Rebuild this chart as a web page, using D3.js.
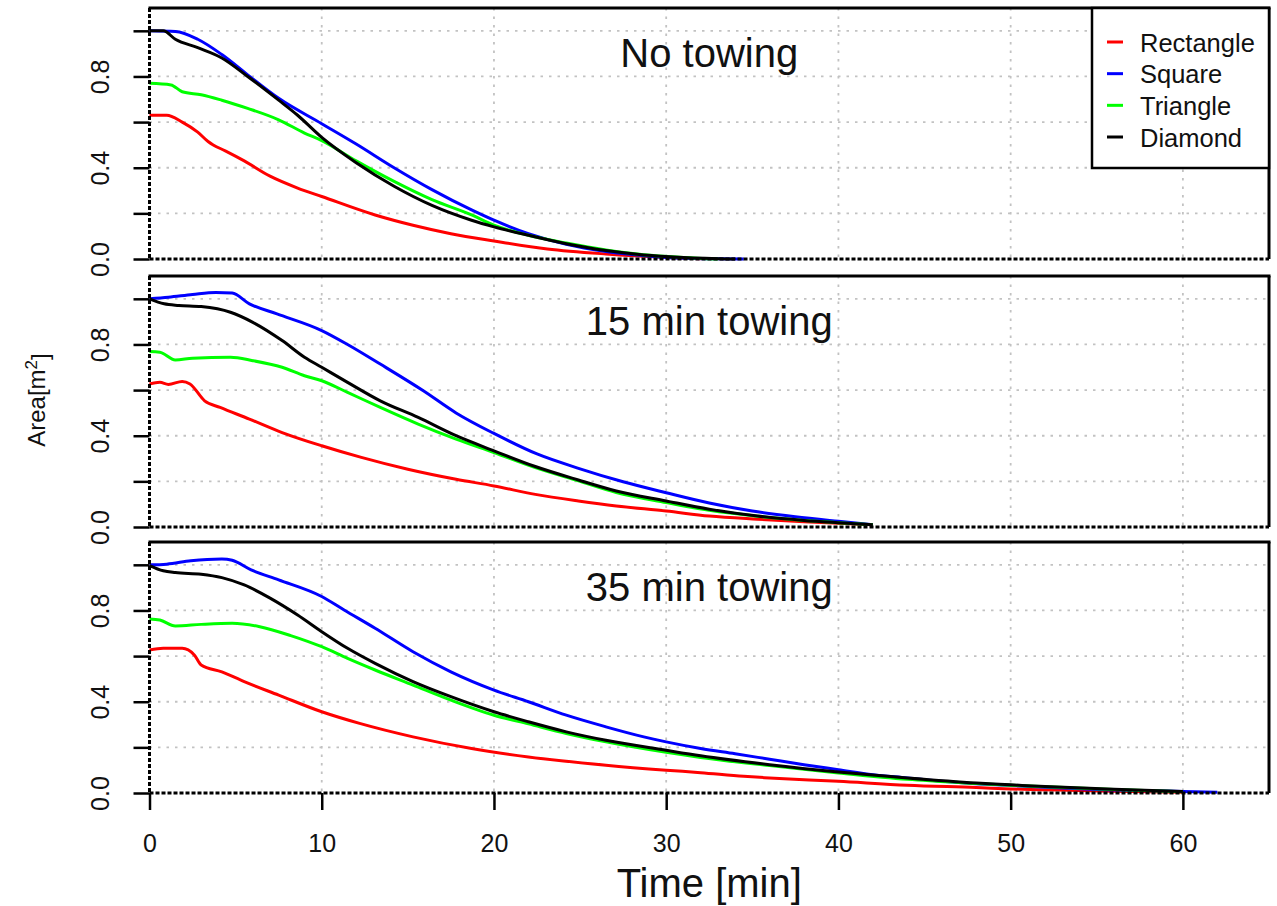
<!DOCTYPE html>
<html>
<head>
<meta charset="utf-8">
<script src="https://cdn.jsdelivr.net/npm/d3@7"></script>
<style>
  html, body { margin: 0; padding: 0; background: #fff; }
  svg { display: block; font-family: "Liberation Sans", Arial, Helvetica, sans-serif; }
</style>
</head>
<body>
<svg id="chart" width="1277" height="906"></svg>
<script>
// ---- Data: time [min] and floating area [m^2] per shape and towing case ----
const panelTitles = ["No towing", "15 min towing", "35 min towing"];
const seriesNames = ["Rectangle", "Square", "Triangle", "Diamond"];
const xTicks = [0, 10, 20, 30, 40, 50, 60];
const yTicks = [0, 0.2, 0.4, 0.6, 0.8, 1.0];
const yLabelled = [0, 0.4, 0.8];

// No towing
const rectNoTow = [[0,0.63],[1,0.63],[1.9,0.60],[2.8,0.556],[3.4,0.515],[3.7,0.50],[4.4,0.474],[5.5,0.43],[7,0.363],[8.6,0.311],[10,0.274],[13.1,0.193],[15.3,0.148],[17.5,0.111],[20,0.079],[23.1,0.044],[26.5,0.022],[30,0.007],[32,0.001]];
const squareNoTow = [[0,1.0],[1.5,0.997],[2.8,0.963],[4.2,0.896],[5.7,0.807],[7.5,0.704],[10,0.593],[12,0.504],[14.2,0.40],[16.4,0.304],[18.7,0.215],[20,0.17],[22,0.111],[24.2,0.064],[26.5,0.033],[28.7,0.015],[30,0.007],[33,0.001],[34.5,0]];
const triNoTow = [[0,0.77],[1.25,0.763],[1.9,0.733],[3,0.72],[4.2,0.696],[5.7,0.66],[7.5,0.61],[9,0.552],[10,0.519],[12,0.43],[14.2,0.34],[16.4,0.26],[18.7,0.193],[20,0.148],[22,0.104],[24.2,0.07],[26.5,0.04],[28.7,0.019],[31,0.007],[33,0]];
const diamondNoTow = [[0,1.0],[0.8,1.0],[1.5,0.963],[2.8,0.926],[4.2,0.881],[5.7,0.80],[7.5,0.696],[8.6,0.63],[10,0.533],[12,0.422],[14.2,0.319],[16.4,0.235],[18.7,0.17],[20,0.141],[22,0.104],[24.2,0.067],[26.5,0.037],[28.7,0.018],[31,0.007],[34,0]];

// 15 min towing
const rectTow15 = [[0,0.627],[0.6,0.634],[1.1,0.625],[1.9,0.638],[2.35,0.627],[3.2,0.553],[4.1,0.524],[5.8,0.473],[7.7,0.414],[10,0.356],[12.3,0.305],[15,0.253],[17.8,0.209],[20,0.18],[22.4,0.143],[24.9,0.114],[27.1,0.092],[30,0.07],[32.5,0.048],[35.3,0.034],[38,0.023],[40,0.016],[42,0.01]];
const squareTow15 = [[0,1.0],[1.1,1.007],[2.5,1.019],[3.85,1.028],[4.8,1.025],[5.8,0.978],[7.4,0.934],[10,0.861],[11.5,0.80],[13.4,0.714],[15.9,0.597],[17.8,0.50],[20,0.41],[22.5,0.32],[25,0.255],[27.5,0.198],[30,0.15],[32.5,0.105],[35,0.07],[37.5,0.045],[40,0.025],[42,0.01]];
const triTow15 = [[0,0.769],[0.6,0.766],[1.5,0.732],[2.5,0.74],[4.7,0.744],[6,0.729],[7.7,0.70],[9,0.663],[10,0.641],[11.5,0.59],[13.4,0.524],[15.6,0.451],[17.8,0.385],[20,0.326],[22.4,0.26],[24.9,0.202],[27.1,0.151],[30,0.107],[32.5,0.073],[35.3,0.047],[38,0.029],[40,0.019],[42,0.01]];
const diamondTow15 = [[0,1.0],[0.85,0.978],[1.7,0.971],[3,0.966],[4.7,0.941],[6,0.897],[7.7,0.817],[9,0.744],[10,0.70],[11.5,0.634],[13.4,0.553],[15.6,0.48],[17.8,0.40],[20,0.334],[22.4,0.265],[24.9,0.206],[27.1,0.158],[30,0.114],[32.5,0.078],[35.3,0.048],[38,0.029],[40,0.019],[42,0.01]];

// 35 min towing
const rectTow35 = [[0,0.627],[0.8,0.634],[1.9,0.634],[2.6,0.605],[3,0.561],[4.2,0.531],[5.5,0.488],[7.5,0.429],[10,0.356],[12.2,0.305],[15.3,0.246],[18.7,0.195],[22,0.158],[26.5,0.122],[30,0.10],[32,0.089],[34.5,0.073],[36,0.066],[40,0.051],[44,0.034],[48,0.024],[50,0.018],[56,0.008],[60,0.003]];
const squareTow35 = [[0,1.0],[1,1.003],[2.4,1.018],[4.2,1.026],[4.8,1.02],[5.9,0.978],[7.5,0.934],[10,0.861],[11.3,0.802],[13.1,0.722],[15.3,0.619],[17.5,0.531],[20,0.451],[22,0.40],[24.2,0.341],[26.5,0.29],[28.7,0.246],[30,0.224],[32,0.195],[34,0.172],[36,0.148],[38,0.124],[40,0.102],[42,0.08],[44,0.066],[46,0.051],[48,0.04],[50,0.033],[52,0.025],[54,0.019],[56,0.013],[58,0.01],[60,0.007],[62,0.003]];
const triTow35 = [[0,0.763],[0.6,0.758],[1.5,0.732],[3,0.739],[4.8,0.744],[6.4,0.729],[8.2,0.69],[10,0.641],[11.5,0.59],[13.1,0.539],[15.3,0.473],[17.5,0.407],[20,0.341],[22,0.303],[24.2,0.261],[26.5,0.224],[30,0.178],[32,0.156],[36,0.12],[40,0.088],[44,0.06],[48,0.042],[50,0.034],[56,0.015],[60,0.006]];
const diamondTow35 = [[0,0.997],[0.8,0.974],[1.5,0.966],[3,0.959],[4.2,0.944],[5.5,0.912],[7,0.854],[8.6,0.78],[10,0.707],[11.5,0.634],[13.1,0.568],[15.3,0.488],[17.5,0.422],[20,0.356],[22,0.312],[24.2,0.268],[26.5,0.231],[30,0.187],[32,0.163],[36,0.124],[40,0.092],[44,0.066],[48,0.044],[50,0.036],[52,0.028],[56,0.016],[60,0.007]];

// ---- Layout and styles ----
const seriesColors = ["#ff0000", "#0000ff", "#00ff00", "#000000"];
const W = 1277, H = 906;
const plotLeft = 149.5, plotRight = 1269;
const panelTops = [8, 276, 542];
const panelHeight = 251;
const textColor = "#111";
const fontStack = "\"Liberation Sans\", Arial, Helvetica, sans-serif";

const panels = panelTitles.map((title, i) => ({
  title,
  series: [
    [rectNoTow, rectTow15, rectTow35][i],
    [squareNoTow, squareTow15, squareTow35][i],
    [triNoTow, triTow15, triTow35][i],
    [diamondNoTow, diamondTow15, diamondTow35][i]
  ]
}));

const svg = d3.select("#chart");
svg.append("rect").attr("width", W).attr("height", H).attr("fill", "#fff");

const x = d3.scaleLinear().domain([0, 65]).range([plotLeft, plotRight]);

const line = d3.line()
  .x(d => x(d[0]))
  .curve(d3.curveMonotoneX);

panels.forEach((panel, pi) => {
  const top = panelTops[pi];
  const bottom = top + panelHeight;
  const y = d3.scaleLinear().domain([0, 1.1]).range([bottom, top]);
  const g = svg.append("g").attr("class", "panel");

  // dotted grid
  g.selectAll("line.vgrid").data(xTicks.filter(t => t > 0)).join("line")
    .attr("class", "vgrid")
    .attr("x1", d => x(d)).attr("x2", d => x(d))
    .attr("y1", top).attr("y2", bottom)
    .attr("stroke", "#c2c2c2").attr("stroke-width", 1.8)
    .attr("stroke-dasharray", "2.5,6");
  g.selectAll("line.hgrid").data(yTicks.filter(t => t > 0)).join("line")
    .attr("class", "hgrid")
    .attr("x1", plotLeft).attr("x2", plotRight)
    .attr("y1", d => y(d)).attr("y2", d => y(d))
    .attr("stroke", "#c2c2c2").attr("stroke-width", 1.8)
    .attr("stroke-dasharray", "2.5,6");

  // area curves
  panel.series.forEach((data, si) => {
    g.append("path")
      .datum(data)
      .attr("fill", "none")
      .attr("stroke", seriesColors[si])
      .attr("stroke-width", 3)
      .attr("stroke-linejoin", "round")
      .attr("d", line.y(d => y(d[1])));
  });

  // frame: solid top/right, dashed zero lines on left/bottom
  g.append("line")
    .attr("x1", plotLeft - 1).attr("x2", plotRight + 1.5)
    .attr("y1", top).attr("y2", top)
    .attr("stroke", "#000").attr("stroke-width", 3);
  g.append("line")
    .attr("x1", plotRight).attr("x2", plotRight)
    .attr("y1", top).attr("y2", bottom)
    .attr("stroke", "#000").attr("stroke-width", 3);
  g.append("line")
    .attr("x1", x(0)).attr("x2", x(0))
    .attr("y1", top).attr("y2", bottom)
    .attr("stroke", "#000").attr("stroke-width", 3)
    .attr("stroke-dasharray", "4,2");
  g.append("line")
    .attr("x1", plotLeft).attr("x2", plotRight)
    .attr("y1", y(0)).attr("y2", y(0))
    .attr("stroke", "#000").attr("stroke-width", 3)
    .attr("stroke-dasharray", "4,2");

  // y axis
  const yAxis = d3.axisLeft(y)
    .tickValues(yTicks)
    .tickSize(16)
    .tickFormat(d => yLabelled.some(v => Math.abs(v - d) < 1e-9) ? d3.format(".1f")(d) : "");
  const ya = g.append("g")
    .attr("transform", `translate(${plotLeft},0)`)
    .call(yAxis)
    .attr("font-size", 25)
    .attr("font-family", fontStack);
  ya.select(".domain").remove();
  ya.selectAll(".tick line").attr("stroke", "#000").attr("stroke-width", 2.5);
  ya.selectAll(".tick text")
    .attr("x", null).attr("dy", null)
    .attr("text-anchor", "middle")
    .attr("transform", "translate(-41,0) rotate(-90)")
    .attr("fill", textColor)
    .attr("font-size", 25);

  // panel title
  g.append("text")
    .attr("x", (plotLeft + plotRight) / 2)
    .attr("y", top + 59)
    .attr("text-anchor", "middle")
    .attr("fill", textColor)
    .attr("font-size", 40)
    .text(panel.title);

  // x axis on the bottom panel
  if (pi === panels.length - 1) {
    const xAxis = d3.axisBottom(x).tickValues(xTicks).tickSize(17).tickFormat(d3.format("d"));
    const xa = g.append("g")
      .attr("transform", `translate(0,${bottom})`)
      .call(xAxis)
      .attr("font-size", 25)
      .attr("font-family", fontStack);
    xa.select(".domain").remove();
    xa.selectAll(".tick line").attr("stroke", "#000").attr("stroke-width", 2.5);
    xa.selectAll(".tick text")
      .attr("y", 59).attr("dy", null)
      .attr("fill", textColor)
      .attr("font-size", 25);
  }
});

// axis titles
svg.append("text")
  .attr("x", (plotLeft + plotRight) / 2)
  .attr("y", 897)
  .attr("text-anchor", "middle")
  .attr("fill", textColor)
  .attr("font-size", 40)
  .text("Time [min]");

const yTitle = svg.append("text")
  .attr("transform", "translate(45,400) rotate(-90)")
  .attr("text-anchor", "middle")
  .attr("fill", textColor)
  .attr("font-size", 24);
yTitle.append("tspan").text("Area[m");
yTitle.append("tspan").attr("dy", "-0.45em").attr("font-size", 17).text("2");
yTitle.append("tspan").attr("dy", "0.45em").text("]");

// legend
const legend = svg.append("g").attr("class", "legend");
legend.append("rect")
  .attr("x", 1092).attr("y", 8)
  .attr("width", plotRight - 1092).attr("height", 160)
  .attr("fill", "#fff").attr("stroke", "#000").attr("stroke-width", 2.5);
const rowY = d3.scaleLinear().domain([0, 3]).range([42, 137]);
seriesNames.forEach((name, i) => {
  legend.append("line")
    .attr("x1", 1107).attr("x2", 1123)
    .attr("y1", rowY(i)).attr("y2", rowY(i))
    .attr("stroke", seriesColors[i]).attr("stroke-width", 3);
  legend.append("text")
    .attr("x", 1140).attr("y", rowY(i) + 9.5)
    .attr("fill", textColor)
    .attr("font-size", 25.5)
    .text(name);
});
</script>
</body>
</html>
